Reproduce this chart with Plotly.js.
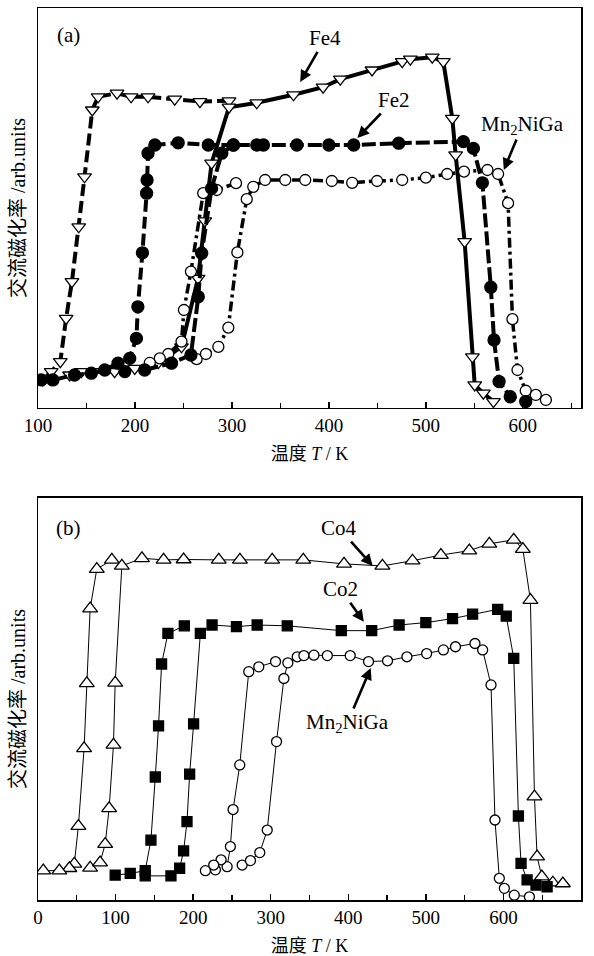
<!DOCTYPE html>
<html><head><meta charset="utf-8">
<script src="https://cdn.plot.ly/plotly-3.0.1.min.js"></script>
<style>body{margin:0;background:#fff}#chart{width:594px;height:956px}</style>
</head><body><div id="chart"></div>
<script>
// ---- Panel (a) data: temperature (K) and AC susceptibility (arb. units) ----
const fe4CoolT = [297, 267, 241, 213.5, 196, 181.5, 162, 156, 148, 142, 135, 129, 123, 113.6, 105];
const fe4CoolM = [76.8, 76.6, 77.2, 77.8, 77.8, 78.7, 77.8, 74.5, 57.8, 45.3, 31.6, 22.4, 11.6, 9.1, 7];
const fe4HeatT = [132.6, 144.7, 156.7, 179, 199.8, 224, 248, 265, 272, 279, 297, 325.6, 363.5, 394, 411.8, 444.5, 475.6, 484, 506.6, 518, 527.3, 530.7, 540, 548, 550.4, 559.3, 569.7];
const fe4HeatM = [8.25, 9.1, 9.1, 9.1, 9.9, 11.3, 15.3, 32.4, 46.8, 61.2, 75.2, 76.3, 78.3, 80.2, 82.2, 84.5, 86.6, 87.2, 87.7, 86.6, 72.4, 63.3, 41.6, 12.8, 5.75, 3.7, 1.6];

const fe2CoolT = [301.5, 275.6, 244.6, 220.5, 213.5, 212.5, 212, 207.7, 203, 201.5, 194.6, 189.5, 182.5, 168.8, 155, 137.7, 115.3, 103.3];
const fe2CoolM = [65.75, 65.75, 66.3, 65.75, 63.7, 57, 53.7, 38.8, 25.3, 17.4, 12.4, 9.1, 11.2, 9.5, 8.7, 8.25, 7, 7];
const fe2HeatT = [210, 237.7, 257.7, 265.3, 268.8, 279, 289.5, 301.5, 325.6, 332.5, 367, 400, 425.6, 472, 538.7, 549, 558.3, 567, 570.3, 575.5, 587, 603];
const fe2HeatM = [9.5, 11.2, 13.25, 27.8, 38.7, 54.9, 63.7, 65.75, 65.75, 65.75, 65.75, 65.75, 65.75, 66.2, 66.6, 64.9, 56.3, 30.2, 17, 6.6, 2.8, 1.6];

const mnaCoolT = [304.2, 284.3, 270.4, 257.7, 250.5, 248, 234.3, 225.6, 215.3];
const mnaCoolM = [56.2, 54.5, 53.7, 34.1, 24.5, 16.6, 13.5, 12.4, 11.3];
const mnaHeatT = [263.6, 273.2, 286, 296.3, 305.6, 315.3, 322, 334.2, 355, 375.6, 403, 424, 449.7, 475.6, 500, 522, 539.3, 563.5, 574.5, 584.8, 589.3, 594.5, 603, 613.4, 623.8];
const mnaHeatM = [12.2, 13.5, 15.3, 20.1, 38.9, 52.2, 55.3, 57, 57, 57, 56.75, 56.3, 56.75, 57, 57.6, 58.5, 59.1, 59.5, 58.5, 51.2, 22.2, 9.5, 4.3, 3.25, 2];

// ---- Panel (b) data ----
const co4CoolT = [95.2, 75.8, 67.2, 62.9, 59.4, 52.1, 46.8, 40.4, 27.5, 6.8];
const co4CoolM = [84.6, 82.3, 72.5, 53.9, 37.7, 18.4, 9, 7.9, 7.3, 7.3];
const co4HeatT = [67.2, 80, 86.6, 91.7, 97.3, 99.5, 108.1, 134, 161.9, 187.7, 233, 260.3, 301.9, 342, 394.5, 444, 482.8, 519.4, 556, 581.8, 613.3, 625, 634.8, 640, 643.4, 649.5, 663.7, 676.6];
const co4HeatM = [8, 9.3, 13.9, 22.8, 38.6, 54, 83.1, 85, 84.6, 84.7, 84.6, 84.6, 84.6, 84.6, 83.6, 83.1, 84.4, 85.8, 86.9, 88.6, 89.6, 87.3, 74.6, 25.7, 10.8, 5.8, 4.3, 4.1];

const co2CoolT = [188.6, 167.5, 159.3, 155.4, 151.2, 145.6, 138.2, 118.9, 99.5];
const co2CoolM = [68.2, 66.3, 58.7, 43.3, 30.6, 14.9, 7.3, 6.6, 6.2];
const co2HeatT = [138.2, 171.4, 182.6, 187.7, 192.1, 195.5, 200.6, 209.3, 224.4, 255.8, 282.5, 321.3, 391, 430.2, 465.5, 500, 534.4, 560.3, 592.6, 603.6, 613.3, 619.3, 622.7, 630.5, 642, 656.3];
const co2HeatM = [6, 6, 7.9, 12.2, 19.5, 31.3, 43.8, 66.3, 68.4, 68, 68.4, 68.2, 67, 67, 68.4, 69, 70, 71.1, 72.3, 70.6, 60.1, 20.9, 9.1, 5, 3.7, 3.3];

const mnbCoolT = [306.2, 284.6, 271.7, 260.1, 251.5, 248, 243.8, 236, 228.7, 226.5, 215.8];
const mnbCoolM = [59.3, 58, 56.8, 33.6, 22.5, 13.3, 8.3, 10, 7.5, 8.7, 7.3];
const mnbHeatT = [263.2, 273.9, 285.9, 295.5, 307.5, 317, 322.1, 334.2, 342.8, 355.7, 373, 402.5, 426.1, 450.6, 475.6, 501, 522.6, 538.2, 563.3, 573.2, 584, 589.1, 594.7, 601.2, 614, 633.5];
const mnbHeatM = [8.7, 9.8, 11.8, 17.4, 39.4, 55.1, 59, 60.5, 60.8, 60.9, 60.8, 60.8, 59.3, 59.5, 60.5, 61.3, 62.2, 63, 63.8, 62.2, 53.5, 19.9, 5.4, 2.9, 1.2, 0.8];

const xTicksA = [100, 200, 300, 400, 500, 600];
const xTicksB = [0, 100, 200, 300, 400, 500, 600, 700];

const FONT = 'Liberation Serif, Times New Roman, Noto Sans CJK SC, serif';

function tr(x, y, ax, sym, fill, msize, lw, dash) {
  return {x: x, y: y, xaxis: ax === 1 ? 'x' : 'x2', yaxis: ax === 1 ? 'y' : 'y2',
    mode: 'lines+markers', showlegend: false, hoverinfo: 'skip',
    line: {color: '#000', width: lw, dash: dash},
    marker: {symbol: sym, size: msize, color: fill, line: {color: '#000', width: 1.3}}};
}

const data = [
  tr(fe4CoolT, fe4CoolM, 1, 'triangle-down', '#fff', 12, 4, '12px,5px'),
  tr(fe4HeatT, fe4HeatM, 1, 'triangle-down', '#fff', 12, 4, 'solid'),
  tr(mnaCoolT, mnaCoolM, 1, 'circle', '#fff', 11, 3.5, '10px,4px,3px,4px'),
  tr(mnaHeatT, mnaHeatM, 1, 'circle', '#fff', 11, 3.5, '10px,4px,3px,4px'),
  tr(fe2CoolT, fe2CoolM, 1, 'circle', '#000', 12, 4, '12px,5px'),
  tr(fe2HeatT, fe2HeatM, 1, 'circle', '#000', 12, 4, '14px,4px'),
  tr(co4CoolT, co4CoolM, 2, 'triangle-up', '#fff', 13, 1, 'solid'),
  tr(co4HeatT, co4HeatM, 2, 'triangle-up', '#fff', 13, 1, 'solid'),
  tr(mnbCoolT, mnbCoolM, 2, 'circle', '#fff', 10, 1, 'solid'),
  tr(mnbHeatT, mnbHeatM, 2, 'circle', '#fff', 10, 1, 'solid'),
  tr(co2CoolT, co2CoolM, 2, 'square', '#000', 10, 1, 'solid'),
  tr(co2HeatT, co2HeatM, 2, 'square', '#000', 10, 1, 'solid')
];

const xBase = {showgrid: false, zeroline: false, showline: true, mirror: true, linecolor: '#000', linewidth: 1.5,
  ticks: 'inside', ticklen: 6, tickwidth: 1.3, tickcolor: '#000',
  tickfont: {family: FONT, size: 19, color: '#000'},
  minor: {ticks: 'inside', ticklen: 5, tickwidth: 1.2, tickcolor: '#000', dtick: 50}};
const yBase = {showgrid: false, zeroline: false, showline: true, mirror: true, linecolor: '#000', linewidth: 1.5,
  showticklabels: false, ticks: '', range: [0, 100], fixedrange: true};

const xTitle = {text: '温度 <i>T</i> / K', font: {family: FONT, size: 18}, standoff: 12};
const yTitle = {text: '交流磁化率 /arb.units', font: {family: FONT, size: 20}, standoff: 5};

function lab(xr, yr, x, y, text) {
  return {xref: xr, yref: yr, x: x, y: y, text: text, showarrow: false, font: {size: 21}};
}
function arr(xr, yr, hx, hy, tx, ty, text) {
  return {xref: xr, yref: yr, x: hx, y: hy, ax: tx, ay: ty, axref: xr, ayref: yr, text: text,
    showarrow: true, arrowhead: 2, arrowsize: 0.9, arrowwidth: 2.6, arrowcolor: '#000', standoff: 0, font: {size: 21}};
}

const layout = {
  width: 594, height: 956, paper_bgcolor: '#fff', plot_bgcolor: '#fff',
  margin: {l: 38, r: 13, t: 8, b: 56},
  font: {family: FONT, color: '#000'},
  xaxis: Object.assign({}, xBase, {anchor: 'y', range: [100, 660], tickvals: xTicksA, title: xTitle}),
  yaxis: Object.assign({}, yBase, {domain: [0.5516, 1], anchor: 'x', title: yTitle}),
  xaxis2: Object.assign({}, xBase, {anchor: 'y2', range: [0, 700], tickvals: xTicksB, title: xTitle}),
  yaxis2: Object.assign({}, yBase, {domain: [0, 0.4507], anchor: 'x2', title: yTitle}),
  annotations: [
    lab('x', 'y', 131.9, 93.25, '(a)'),
    arr('x', 'y', 370.4, 81.5, 396.3, 92.4, 'Fe4'),
    arr('x', 'y', 429.4, 67.5, 466.9, 77, 'Fe2'),
    arr('x', 'y', 580.4, 59.5, 599.7, 70.75, 'Mn<sub>2</sub>NiGa'),
    lab('x2', 'y2', 39.1, 92.5, '(b)'),
    arr('x2', 'y2', 431.5, 83.1, 388, 92.5, 'Co4'),
    arr('x2', 'y2', 420, 69.2, 390.2, 77.3, 'Co2'),
    arr('x2', 'y2', 429, 57.7, 398.8, 44, 'Mn<sub>2</sub>NiGa')
  ]
};

Plotly.newPlot('chart', data, layout, {staticPlot: true, displayModeBar: false});
</script></body></html>
